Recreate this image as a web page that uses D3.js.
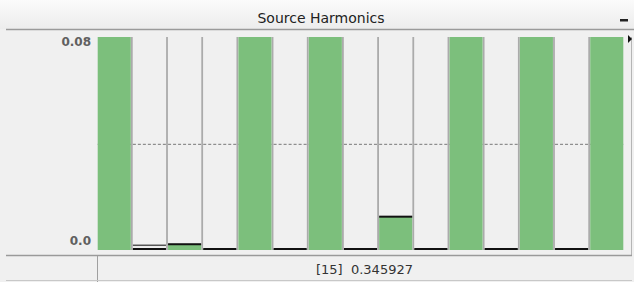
<!DOCTYPE html>
<html>
<head>
<meta charset="utf-8">
<script src="https://cdn.jsdelivr.net/npm/d3@7"></script>
<style>
  body { margin: 0; background: #f0f0f0; }
  svg { display: block; font-family: "DejaVu Sans", sans-serif; }
</style>
</head>
<body>
<div id="chart"></div>
<script>
// harmonic orders and their values (clipped at the top of the scale)
const harmonics = [1, 2, 3, 4, 5, 6, 7, 8, 9, 10, 11, 12, 13, 14, 15];
const values = [1.0, 0, 0.0018, 0, 0.2, 0, 0.143, 0, 0.0122, 0, 0.091, 0, 0.0845, 0, 0.345927];
const ghostValues = [null, 0.0015, null, null, null, null, null, null, null, null, null, null, null, null, null];
const limitValue = 0.0395;
const yTicks = [0, 0.08];
const yTickLabels = ["0.0", "0.08"];
const title = "Source Harmonics";
const selected = 15;

const width = 634, height = 282;

const svg = d3.select("#chart")
  .append("svg")
  .attr("width", width)
  .attr("height", height);

// title bar
const grad = svg.append("defs").append("linearGradient")
  .attr("id", "tb").attr("x1", 0).attr("y1", 0).attr("x2", 0).attr("y2", 1);
grad.append("stop").attr("offset", "0%").attr("stop-color", "#fbfbfb");
grad.append("stop").attr("offset", "100%").attr("stop-color", "#ececec");

svg.append("rect")
  .attr("width", width).attr("height", 29)
  .attr("fill", "url(#tb)");
svg.append("line")
  .attr("x1", 6).attr("x2", width).attr("y1", 29.5).attr("y2", 29.5)
  .attr("stroke", "#9a9a9a").attr("stroke-width", 1.5);
svg.append("text")
  .attr("x", 321).attr("y", 23)
  .attr("text-anchor", "middle")
  .attr("font-size", 14)
  .attr("fill", "#222")
  .text(title);
svg.append("rect")
  .attr("x", 620).attr("y", 19).attr("width", 8).attr("height", 2.5)
  .attr("fill", "#222");

const xScale = d3.scaleBand()
  .domain(harmonics)
  .range([97, 624])
  .paddingInner(0.06)
  .paddingOuter(0.02);

const yScale = d3.scaleLinear()
  .domain([0, 0.08])
  .range([249, 37]);

const plot = svg.append("g");

// column backgrounds
plot.selectAll("rect.col")
  .data(harmonics)
  .enter()
  .append("rect")
  .attr("class", "col")
  .attr("x", d => xScale(d))
  .attr("y", yScale(0.08))
  .attr("width", xScale.bandwidth())
  .attr("height", 250 - yScale(0.08))
  .attr("fill", "#f0f0f0");

// separators between columns
const gap = xScale.step() - xScale.bandwidth();
plot.selectAll("line.sep")
  .data(harmonics.slice(1))
  .enter()
  .append("line")
  .attr("class", "sep")
  .attr("x1", d => xScale(d) - gap / 2)
  .attr("x2", d => xScale(d) - gap / 2)
  .attr("y1", yScale(0.08))
  .attr("y2", 250)
  .attr("stroke", "#ababab")
  .attr("stroke-width", 1.8);

plot.append("line")
  .attr("x1", 631.5).attr("x2", 631.5)
  .attr("y1", 37).attr("y2", 255)
  .attr("stroke", "#b5b5b5").attr("stroke-width", 1);

// dashed limit line per column
plot.selectAll("line.limit")
  .data(harmonics)
  .enter()
  .append("line")
  .attr("class", "limit")
  .attr("x1", d => xScale(d))
  .attr("x2", d => xScale(d) + xScale.bandwidth())
  .attr("y1", yScale(limitValue))
  .attr("y2", yScale(limitValue))
  .attr("stroke", "#777")
  .attr("stroke-dasharray", "3,2");

const clip = v => Math.min(v, 0.08);

// value bars
plot.selectAll("rect.bar")
  .data(harmonics)
  .enter()
  .append("rect")
  .attr("class", "bar")
  .attr("x", d => xScale(d))
  .attr("y", (d, i) => yScale(clip(values[i])))
  .attr("width", xScale.bandwidth())
  .attr("height", (d, i) => 250 - yScale(clip(values[i])))
  .attr("fill", "#7cbf7c");

// value markers (hidden when clipped)
plot.selectAll("rect.mark")
  .data(harmonics.filter((d, i) => values[i] < 0.08))
  .enter()
  .append("rect")
  .attr("class", "mark")
  .attr("x", d => xScale(d))
  .attr("y", d => yScale(values[harmonics.indexOf(d)]) - 1)
  .attr("width", xScale.bandwidth())
  .attr("height", 2)
  .attr("fill", "#111");

plot.selectAll("rect.ghost")
  .data(harmonics.filter((d, i) => ghostValues[i] !== null))
  .enter()
  .append("rect")
  .attr("class", "ghost")
  .attr("x", d => xScale(d))
  .attr("y", d => yScale(ghostValues[harmonics.indexOf(d)]) - 0.5)
  .attr("width", xScale.bandwidth())
  .attr("height", 1.5)
  .attr("fill", "#555");

// y axis labels
const yAxis = d3.axisLeft(yScale)
  .tickValues(yTicks)
  .tickSize(0)
  .tickFormat((d, i) => yTickLabels[i]);

const ax = svg.append("g")
  .attr("transform", "translate(91,0)")
  .call(yAxis);
ax.select(".domain").remove();
ax.selectAll("text")
  .attr("font-family", "DejaVu Sans, sans-serif")
  .attr("font-size", 12)
  .attr("font-weight", "bold")
  .attr("fill", "#606060")
  .attr("x", 0)
  .attr("dy", d => d === 0.08 ? "0.7em" : "-0.4em");

// status bar
svg.append("line")
  .attr("x1", 6).attr("x2", 632).attr("y1", 255.5).attr("y2", 255.5)
  .attr("stroke", "#9a9a9a").attr("stroke-width", 1.5);
svg.append("line")
  .attr("x1", 97.5).attr("x2", 97.5).attr("y1", 256).attr("y2", 282)
  .attr("stroke", "#a0a0a0").attr("stroke-width", 1);
svg.append("line")
  .attr("x1", 6).attr("x2", 632).attr("y1", 280.5).attr("y2", 280.5)
  .attr("stroke", "#c8c8c8").attr("stroke-width", 1);
svg.append("text")
  .attr("x", 316).attr("y", 274)
  .attr("font-size", 13)
  .attr("fill", "#333")
  .attr("xml:space", "preserve")
  .text("[" + selected + "]  " + values[harmonics.indexOf(selected)]);

// small arrow at the top right
svg.append("path")
  .attr("d", "M628,35 L632,39 L628,43 Z")
  .attr("fill", "#111");
</script>
</body>
</html>
